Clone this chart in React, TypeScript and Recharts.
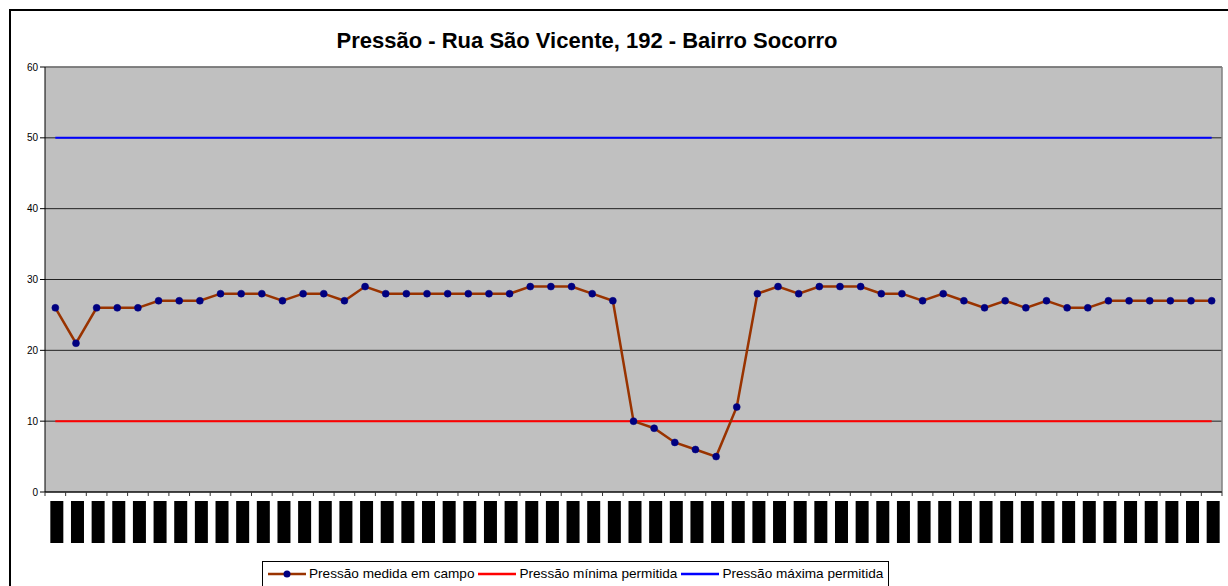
import { LineChart, Line, XAxis, YAxis, CartesianGrid } from "recharts";

const FONT = "'Liberation Sans', Arial, sans-serif";

// reading number (the original labels are blacked out in the source image)
const categories = [
  "1", "2", "3", "4", "5", "6", "7", "8", "9", "10",
  "11", "12", "13", "14", "15", "16", "17", "18", "19", "20",
  "21", "22", "23", "24", "25", "26", "27", "28", "29", "30",
  "31", "32", "33", "34", "35", "36", "37", "38", "39", "40",
  "41", "42", "43", "44", "45", "46", "47", "48", "49", "50",
  "51", "52", "53", "54", "55", "56", "57",
];

const measured = [
  26, 21, 26, 26, 26, 27, 27, 27, 28, 28,
  28, 27, 28, 28, 27, 29, 28, 28, 28, 28,
  28, 28, 28, 29, 29, 29, 28, 27, 10, 9,
  7, 6, 5, 12, 28, 29, 28, 29, 29, 29,
  28, 28, 27, 28, 27, 26, 27, 26, 27, 26,
  26, 27, 27, 27, 27, 27, 27,
];

const minAllowed = [
  10, 10, 10, 10, 10, 10, 10, 10, 10, 10,
  10, 10, 10, 10, 10, 10, 10, 10, 10, 10,
  10, 10, 10, 10, 10, 10, 10, 10, 10, 10,
  10, 10, 10, 10, 10, 10, 10, 10, 10, 10,
  10, 10, 10, 10, 10, 10, 10, 10, 10, 10,
  10, 10, 10, 10, 10, 10, 10,
];

const maxAllowed = [
  50, 50, 50, 50, 50, 50, 50, 50, 50, 50,
  50, 50, 50, 50, 50, 50, 50, 50, 50, 50,
  50, 50, 50, 50, 50, 50, 50, 50, 50, 50,
  50, 50, 50, 50, 50, 50, 50, 50, 50, 50,
  50, 50, 50, 50, 50, 50, 50, 50, 50, 50,
  50, 50, 50, 50, 50, 50, 50,
];

const yTicks = [0, 10, 20, 30, 40, 50, 60];

const rows = categories.map((c, i) => ({
  name: c,
  medida: measured[i],
  minima: minAllowed[i],
  maxima: maxAllowed[i],
}));

const HALF_BAND = 10.33;
const TICK_OFF = 8; // tickSize + tickMargin

function CategoryTick(props: any) {
  const { x, y, index } = props;
  const axisY = y - TICK_OFF;
  return (
    <g>
      <line x1={x - HALF_BAND} x2={x - HALF_BAND} y1={axisY} y2={axisY + 4} stroke="#333" />
      {index === categories.length - 1 && (
        <line x1={x + HALF_BAND} x2={x + HALF_BAND} y1={axisY} y2={axisY + 4} stroke="#333" />
      )}
      <rect x={x - 5} y={y + 1} width={13} height={42} fill="#000" />
    </g>
  );
}

const legendItems = [
  { label: "Pressão medida em campo", color: "#993300", dot: true },
  { label: "Pressão mínima permitida", color: "#ff0000", dot: false },
  { label: "Pressão máxima permitida", color: "#0000ff", dot: false },
];

export default function App() {
  return (
    <div style={styles.frame}>
      <div style={styles.title}>Pressão - Rua São Vicente, 192 - Bairro Socorro</div>
      <LineChart
        width={1217}
        height={575}
        data={rows}
        margin={{ top: 56, right: 6, left: 0, bottom: 0 }}
      >
        <CartesianGrid vertical={false} stroke="#222" fill="#c0c0c0" fillOpacity={1} />
        <CartesianGrid
          horizontalCoordinatesGenerator={({ offset }: any) => [offset.top]}
          verticalCoordinatesGenerator={({ offset }: any) => [offset.left + offset.width]}
          stroke="#808080"
          strokeWidth={1.5}
        />
        <XAxis
          dataKey="name"
          interval={0}
          height={94}
          padding={{ left: HALF_BAND, right: HALF_BAND }}
          axisLine={{ stroke: "#000" }}
          tickLine={false}
          tickSize={5}
          tickMargin={3}
          tick={<CategoryTick />}
        />
        <YAxis
          width={34}
          domain={[0, 60]}
          ticks={yTicks}
          interval={0}
          tickSize={5}
          axisLine={{ stroke: "#000" }}
          tickLine={{ stroke: "#000" }}
          tick={{ fontSize: 10, fill: "#000", fontFamily: FONT }}
        />
        <Line
          type="linear"
          dataKey="minima"
          stroke="#ff0000"
          strokeWidth={2}
          dot={false}
          activeDot={false}
          isAnimationActive={false}
        />
        <Line
          type="linear"
          dataKey="maxima"
          stroke="#0000ff"
          strokeWidth={2}
          dot={false}
          activeDot={false}
          isAnimationActive={false}
        />
        <Line
          type="linear"
          dataKey="medida"
          stroke="#993300"
          strokeWidth={2.5}
          dot={{ r: 3.5, fill: "#000080", stroke: "#000080", strokeWidth: 0.5 }}
          activeDot={false}
          isAnimationActive={false}
        />
      </LineChart>
      <div style={styles.legend}>
        {legendItems.map((it) => (
          <div key={it.label} style={styles.legendItem}>
            <svg width={40} height={15}>
              <line x1={1} x2={39} y1={8} y2={8} stroke={it.color} strokeWidth={2.5} />
              {it.dot && <circle cx={20} cy={8} r={3.5} fill="#000080" />}
            </svg>
            <span style={{ marginLeft: 2 }}>{it.label}</span>
          </div>
        ))}
      </div>
    </div>
  );
}

const styles: Record<string, React.CSSProperties> = {
  frame: {
    position: "absolute",
    left: 9,
    top: 9,
    width: 1219,
    height: 577,
    boxSizing: "border-box",
    borderTop: "2px solid #000",
    borderLeft: "2px solid #000",
    overflow: "hidden",
    background: "#fff",
  },
  title: {
    position: "absolute",
    left: 0,
    top: 19,
    width: 1152,
    textAlign: "center",
    fontFamily: FONT,
    fontWeight: "bold",
    fontSize: 22,
    lineHeight: "22px",
    color: "#000",
  },
  legend: {
    position: "absolute",
    left: 251,
    top: 550,
    height: 30,
    border: "1px solid #000",
    background: "#fff",
    display: "flex",
    alignItems: "flex-start",
    paddingTop: 4,
    paddingLeft: 4,
    paddingRight: 2,
    fontFamily: FONT,
    fontSize: 13.6,
    lineHeight: "15px",
    color: "#000",
    whiteSpace: "nowrap",
  },
  legendItem: {
    display: "flex",
    alignItems: "center",
    marginRight: 3,
  },
};
